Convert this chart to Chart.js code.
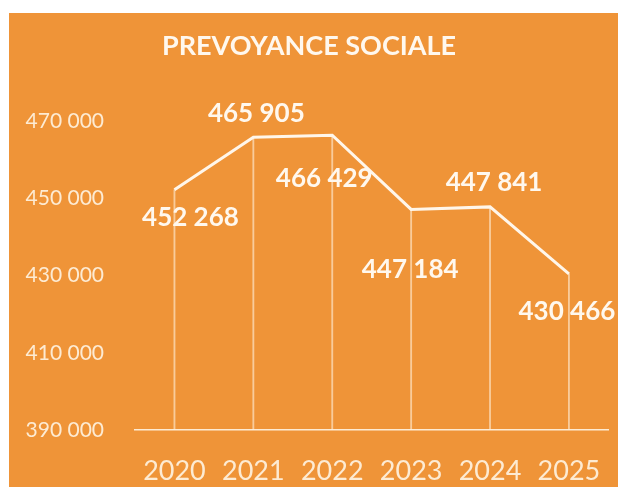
<!DOCTYPE html>
<html>
<head>
<meta charset="utf-8">
<script src="https://cdn.jsdelivr.net/npm/chart.js@4.4.1/dist/chart.umd.min.js"></script>
<style>
  html, body { margin: 0; padding: 0; background: #fff; }
  #wrap {
    position: absolute; left: 9px; top: 13px;
    width: 609px; height: 474px;
    background: #ef9438;
  }
</style>
</head>
<body>
<div id="wrap"><canvas id="chart" width="609" height="474"></canvas></div>
<script>
// Prévoyance sociale 2020-2025
const years  = ["2020", "2021", "2022", "2023", "2024", "2025"];
const values = [452268, 465905, 466429, 447184, 447841, 430466];
const yTicks = [390000, 410000, 430000, 450000, 470000];

const CREAM = "#fdebd3";

function fmt(n) {
  return String(Math.round(n)).replace(/\B(?=(\d{3})+(?!\d))/g, " ");
}

// value labels, placed by hand around each point like in the original
const labelOffsets = [[16, 28], [3, -24], [-8, 43], [-1, 60], [4, -24], [-2, 38]];

const valueLabels = {
  id: "valueLabels",
  afterDatasetsDraw(chart) {
    const meta = chart.getDatasetMeta(1);
    const ctx = chart.ctx;
    ctx.save();
    ctx.font = "bold 26px Lato";
    ctx.fillStyle = "#fff8ee";
    ctx.textAlign = "center";
    ctx.textBaseline = "middle";
    meta.data.forEach((pt, i) => {
      const [dx, dy] = labelOffsets[i];
      ctx.fillText(fmt(values[i]), pt.x + dx, pt.y + dy);
    });
    ctx.restore();
  }
};

new Chart(document.getElementById("chart"), {
  data: {
    labels: years,
    datasets: [
      {
        type: "bar",
        data: values,
        backgroundColor: "rgba(255,240,220,0.6)",
        barThickness: 1.2,
        base: 390000,
        order: 2
      },
      {
        type: "line",
        data: values,
        borderColor: "#fff6ea",
        borderWidth: 3,
        pointRadius: 0,
        tension: 0,
        order: 1
      }
    ]
  },
  options: {
    responsive: false,
    animation: false,
    layout: { padding: { left: 0, right: 9, top: 0, bottom: 0 } },
    plugins: {
      legend: { display: false },
      tooltip: { enabled: false },
      title: {
        display: true,
        text: "PREVOYANCE SOCIALE",
        color: "#fff8ee",
        font: { family: "Lato", size: 27, weight: "bold" },
        padding: { top: 17, bottom: 59 }
      }
    },
    scales: {
      x: {
        offset: true,
        grid: { display: false },
        border: { display: true, color: CREAM, width: 1.5 },
        ticks: {
          color: CREAM,
          font: { family: "Lato", size: 27 },
          padding: 17
        },
        afterFit(s) { s.height = 57; }
      },
      y: {
        min: 390000,
        max: 470000,
        grid: { display: false },
        border: { display: false },
        afterBuildTicks(s) { s.ticks = yTicks.map(v => ({ value: v })); },
        ticks: {
          color: CREAM,
          font: { family: "Lato", size: 21 },
          padding: 23,
          callback: v => fmt(v)
        },
        afterFit(s) { s.width = 126; }
      }
    }
  },
  plugins: [valueLabels]
});
</script>
</body>
</html>
